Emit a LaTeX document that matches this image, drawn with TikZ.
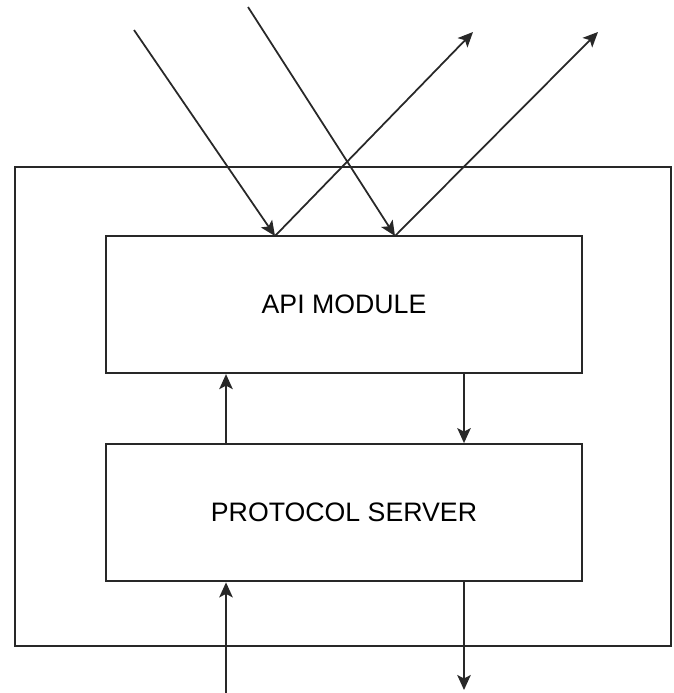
\documentclass[tikz,border=0pt]{standalone}
\usepackage{fontspec}
\setmainfont{Liberation Sans}
\usepackage{tikz}
\usetikzlibrary{arrows.meta, positioning}
\definecolor{linegray}{RGB}{40,40,40}
\tikzstyle{outerBox} = [rectangle, minimum width=13.12cm, minimum height=9.58cm, draw=linegray, line width=1.2pt]
\tikzstyle{moduleNode} = [rectangle, minimum width=9.52cm, minimum height=2.74cm, text centered, draw=linegray, line width=1.3pt, font=\fontsize{15.2}{18}\selectfont]
\tikzstyle{arrow} = [line width=1pt, draw=linegray, -{Stealth[length=0.3cm, width=0.27cm, inset=0.07cm]}]

\begin{document}
\begin{tikzpicture}[x=0.02cm, y=-0.02cm]
    \useasboundingbox (0,0) rectangle (673,693);
    \node (system) [outerBox] at (343,406.5) {};
    \node (api) [moduleNode] at (344,304.5) {API MODULE};
    \node (proto) [moduleNode, below=1.38cm of api] {PROTOCOL SERVER};
    % requests coming in from above, replies going back out
    \coordinate (req1) at (134,30);
    \coordinate (req2) at (248,7);
    \coordinate (rep1) at (473,32);
    \coordinate (rep2) at (598,32);
    \coordinate (hit1) at (275,236);
    \coordinate (hit2) at (395,236);
    % columns of the vertical arrows
    \coordinate (upx) at (226,0);
    \coordinate (downx) at (464,0);
    \coordinate (wireIn) at (226,693);
    \coordinate (wireOut) at (464,690);

    \draw [arrow] (req1) -- (hit1);
    \draw [arrow] (req2) -- (hit2);
    \draw [arrow] (hit1) -- (rep1);
    \draw [arrow] (hit2) -- (rep2);
    %
    \draw [arrow] (upx |- proto.north) -- (upx |- api.south);
    \draw [arrow] (downx |- api.south) -- (downx |- proto.north);
    %
    \draw [arrow] (wireIn) -- (upx |- proto.south);
    \draw [arrow] (downx |- proto.south) -- (wireOut);
\end{tikzpicture}
\end{document}
